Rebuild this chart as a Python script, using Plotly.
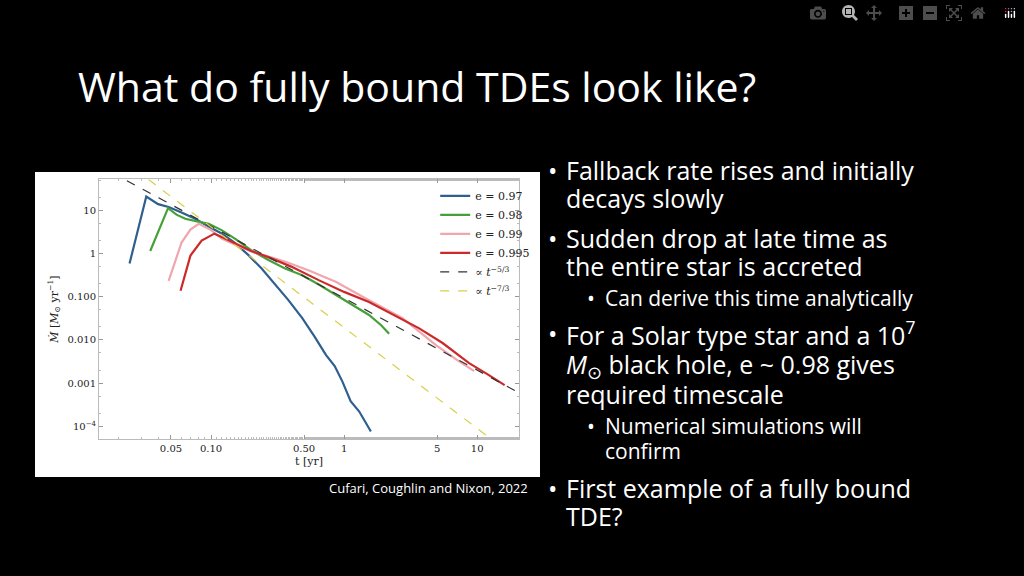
import plotly.graph_objects as go

# data (t in yr, Mdot in Msun/yr)
t_097 = [0.0244, 0.0326, 0.040, 0.048, 0.060, 0.076, 0.095, 0.121, 0.150, 0.192, 0.240, 0.306, 0.38, 0.485, 0.60, 0.73, 0.85, 0.97, 1.05, 1.12, 1.30, 1.59]
m_097 = [0.59, 21, 14, 12, 9.0, 6.4, 4.3, 2.9, 1.8, 0.91, 0.45, 0.186, 0.085, 0.032, 0.012, 0.0045, 0.0025, 0.0011, 0.0006, 0.00038, 0.00022, 0.000076]
t_098 = [0.0349, 0.0475, 0.055, 0.064, 0.080, 0.096, 0.12, 0.152, 0.20, 0.27, 0.36, 0.485, 0.65, 0.865, 1.15, 1.54, 1.9, 2.18]
m_098 = [1.15, 11.3, 8.0, 6.4, 5.5, 4.9, 3.5, 2.2, 1.2, 0.71, 0.45, 0.316, 0.19, 0.11, 0.065, 0.038, 0.022, 0.014]
t_099 = [0.048, 0.060, 0.070, 0.081, 0.10, 0.121, 0.16, 0.204, 0.27, 0.363, 0.55, 0.865, 1.54, 2.75, 4.9, 7.0, 9.5]
m_099 = [0.234, 1.8, 3.6, 4.9, 3.5, 2.2, 1.5, 1.1, 0.85, 0.65, 0.4, 0.224, 0.083, 0.032, 0.0076, 0.0035, 0.0019]
t_0995 = [0.059, 0.070, 0.085, 0.106, 0.125, 0.152, 0.20, 0.27, 0.40, 0.65, 1.0, 1.54, 2.4, 3.67, 5.5, 8.7, 12.0, 16.1]
m_0995 = [0.138, 0.9, 2.0, 2.9, 2.3, 1.7, 1.15, 0.83, 0.5, 0.24, 0.13, 0.076, 0.037, 0.0186, 0.0085, 0.0029, 0.0016, 0.0009]
t_53 = [0.0233, 20.8]
m_53 = [0.093 * t ** (-5 / 3) for t in t_53]
t_73 = [0.0339, 13.1]
m_73 = [0.0193 * t ** (-7 / 3) for t in t_73]

xt_vals = [0.05, 0.1, 0.5, 1, 5, 10]
xt_text = ["0.05", "0.10", "0.50", "1", "5", "10"]
yt_vals = [10, 1, 0.1, 0.01, 0.001, 0.0001]
yt_text = ["10", "1", "0.100", "0.010", "0.001", "10<sup>−4</sup>"]

fig = go.Figure()
for t, m, n, c in [(t_097, m_097, "e = 0.97", "#2f5f8e"), (t_098, m_098, "e = 0.98", "#45a03a"),
                   (t_099, m_099, "e = 0.99", "#f0a6ad"), (t_0995, m_0995, "e = 0.995", "#cc2a2a")]:
    fig.add_trace(go.Scatter(x=t, y=m, mode="lines", name=n, line=dict(color=c, width=2.2)))
fig.add_trace(go.Scatter(x=t_53, y=m_53, mode="lines", name="∝ <i>t</i><sup>−5/3</sup>",
                         line=dict(color="#333", width=1.2, dash="dash")))
fig.add_trace(go.Scatter(x=t_73, y=m_73, mode="lines", name="∝ <i>t</i><sup>−7/3</sup>",
                         line=dict(color="#d8cf4a", width=1.2, dash="dash")))

axis_common = dict(type="log", showgrid=False, zeroline=False, showline=True, linecolor="#bbb",
                   mirror="ticks", ticks="inside", ticklen=4, tickcolor="#999",
                   minor=dict(ticks="inside", ticklen=2, tickcolor="#bbb"),
                   tickfont=dict(family="DejaVu Serif", size=10, color="#222"))
fig.update_layout(
    width=1024, height=576, paper_bgcolor="black", plot_bgcolor="white",
    margin=dict(l=0, r=0, t=0, b=0), showlegend=True,
    xaxis=dict(axis_common, domain=[0.0967, 0.507], range=[-1.842, 1.316],
               tickvals=xt_vals, ticktext=xt_text,
               title=dict(text="t [yr]", font=dict(family="DejaVu Serif", size=11, color="#222"), standoff=4)),
    yaxis=dict(axis_common, domain=[0.2378, 0.689], range=[-4.294, 1.725],
               tickvals=yt_vals, ticktext=yt_text,
               title=dict(text="<i>Ṁ</i> [<i>M</i><sub>⊙</sub> yr<sup>−1</sup>]",
                          font=dict(family="DejaVu Serif", size=11, color="#222"), standoff=6)),
    legend=dict(x=0.425, y=0.685, xanchor="left", yanchor="top", bgcolor="rgba(0,0,0,0)",
                font=dict(family="DejaVu Serif", size=11, color="#222"), tracegroupgap=0),
    shapes=[dict(type="rect", xref="paper", yref="paper", x0=35/1024, x1=540/1024,
                 y0=1-477/576, y1=1-172/576, fillcolor="white", line=dict(width=0), layer="below")],
)

W, H = 1024, 576
def ann(x, y, text, size, anchor="left"):
    fig.add_annotation(x=x / W, y=1 - y / H, xref="paper", yref="paper", text=text, showarrow=False,
                       xanchor=anchor, yanchor="middle",
                       font=dict(family="Open Sans", size=size, color="white"))

ann(76, 86, "What do fully bound TDEs look like?", 41)
ann(530, 488, "Cufari, Coughlin and Nixon, 2022", 13, "right")
lines = [
    (170, 0, "Fallback rate rises and initially"), (198, 0, None, "decays slowly"),
    (238, 0, "Sudden drop at late time as"), (266, 0, None, "the entire star is accreted"),
    (298, 1, "Can derive this time analytically"),
    (333, 0, "For a Solar type star and a 10<sup>7</sup>"),
    (365, 0, None, "<i>M</i><sub>⊙</sub> black hole, e ~ 0.98 gives"),
    (394, 0, None, "required timescale"),
    (426, 1, "Numerical simulations will"), (451, 1, None, "confirm"),
    (488, 0, "First example of a fully bound"), (516, 0, None, "TDE?"),
]
for ln in lines:
    y, lvl = ln[0], ln[1]
    bullet = len(ln) == 3
    txt = ln[2] if bullet else ln[3]
    size = 25 if lvl == 0 else 21
    bx, tx = (546, 564) if lvl == 0 else (585, 603)
    if bullet:
        ann(bx, y, "•", size)
    ann(tx, y, txt, size)

fig.write_html("out.html",
               post_script="document.body.style.margin='0';document.body.style.background='black';")
